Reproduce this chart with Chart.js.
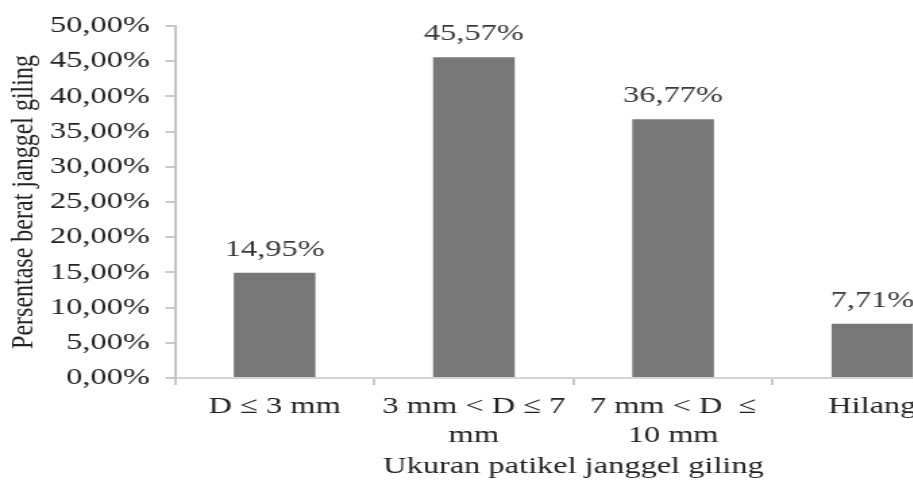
<!DOCTYPE html>
<html>
<head>
<meta charset="utf-8">
<script src="https://cdn.jsdelivr.net/npm/chart.js@4.4.1/dist/chart.umd.min.js"></script>
<style>
  html, body { margin: 0; padding: 0; background: #ffffff; overflow: hidden; width: 913px; height: 481px; }
  #wrap { position: absolute; left: 0; top: 0; width: 730px; height: 481px; transform: scaleX(1.35); transform-origin: 0 0; }
</style>
</head>
<body>
<div id="wrap"><canvas id="c"></canvas></div>
<script>
// ---- data ----
const categories = [
  ["D \u2264 3 mm"],
  ["3 mm < D \u2264 7", "mm"],
  ["7 mm < D  \u2264", "10 mm"],
  ["Hilang"]
];
const values = [14.95, 45.57, 36.77, 7.71];
const yTicks = [0, 5, 10, 15, 20, 25, 30, 35, 40, 45, 50];
const xTitle = "Ukuran patikel janggel giling";
const yTitle = "Persentase berat janggel giling";

const FONT = "'Liberation Serif', 'Times New Roman', serif";
const fmt = v => v.toFixed(2).replace('.', ',') + '%';

const valueLabels = {
  id: 'valueLabels',
  afterDatasetsDraw(chart) {
    const ctx = chart.ctx;
    const meta = chart.getDatasetMeta(0);
    ctx.save();
    ctx.font = '24px ' + FONT;
    ctx.fillStyle = '#3a3a3a';
    ctx.textAlign = 'center';
    ctx.textBaseline = 'middle';
    meta.data.forEach((bar, i) => {
      ctx.fillText(fmt(values[i]), bar.x, bar.y - 23.5);
    });
    ctx.restore();
  }
};

new Chart(document.getElementById('c'), {
  type: 'bar',
  data: {
    labels: categories,
    datasets: [{
      data: values,
      backgroundColor: '#787878',
      borderWidth: 0,
      barPercentage: 0.41,
      categoryPercentage: 1.0
    }]
  },
  options: {
    responsive: true,
    maintainAspectRatio: false,
    animation: false,
    events: [],
    layout: { padding: { top: 19, right: 10, bottom: 0, left: 0 } },
    plugins: {
      legend: { display: false },
      tooltip: { enabled: false }
    },
    scales: {
      x: {
        grid: {
          offset: true,
          drawOnChartArea: false,
          drawTicks: true,
          tickLength: 7,
          color: '#c8c8c8',
          lineWidth: 2
        },
        border: { display: true, color: '#d4d4d4', width: 2 },
        ticks: {
          color: '#222222',
          font: { family: FONT, size: 24, lineHeight: 1.2 },
          padding: 7.6,
          maxRotation: 0,
          minRotation: 0,
          autoSkip: false
        },
        title: {
          display: true,
          text: xTitle,
          color: '#222222',
          font: { family: FONT, size: 24, lineHeight: 1.2 },
          padding: { top: 0, bottom: 0 }
        },
        afterFit(scale) { scale.height = 103; }
      },
      y: {
        min: 0,
        max: 50,
        afterBuildTicks(scale) { scale.ticks = yTicks.map(v => ({ value: v })); },
        grid: {
          drawOnChartArea: false,
          drawTicks: true,
          tickLength: 7,
          color: '#c8c8c8',
          lineWidth: 2
        },
        border: { display: true, color: '#c4c4c4', width: 2 },
        ticks: {
          color: '#222222',
          font: { family: FONT, size: 24, lineHeight: 1.2 },
          padding: 11.6,
          callback: v => fmt(v)
        },
        title: {
          display: true,
          text: yTitle,
          color: '#222222',
          font: { family: FONT, size: 24, lineHeight: 1.2 },
          padding: { top: 3, bottom: 0 }
        },
        afterFit(scale) { scale.width = 129.6; }
      }
    }
  },
  plugins: [valueLabels]
});
</script>
</body>
</html>
